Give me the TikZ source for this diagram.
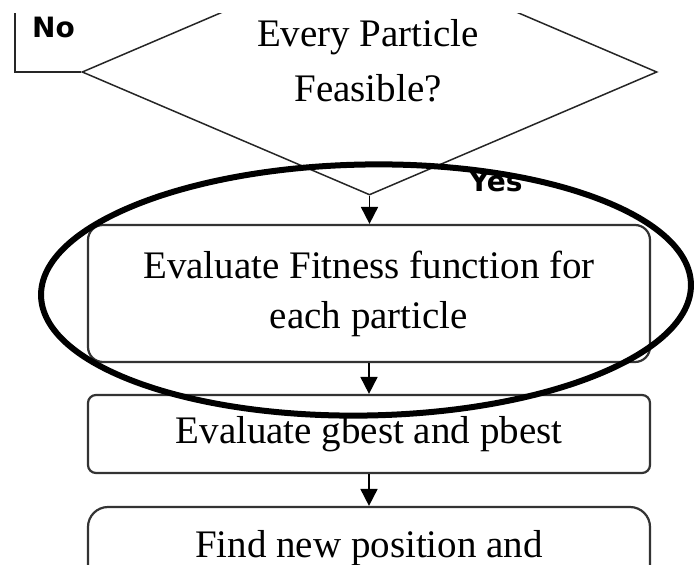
\documentclass[tikz,border=0pt]{standalone}
\usepackage{fontspec}
\setmainfont{Liberation Serif}
\newfontfamily\labfont{DejaVu Sans}
\usetikzlibrary{shapes.geometric,arrows.meta}
\begin{document}
\begin{tikzpicture}[x=1pt,y=-1pt,
  boxstyle/.style={draw=black!80, line width=2.2pt, minimum width=562pt, inner sep=0pt, align=center, font=\fontsize{39}{50}\selectfont},
  flow/.style={draw=black, line width=1.8pt, -{Triangle[width=17pt,length=17pt]}},
  yn/.style={font=\labfont\bfseries\fontsize{28}{30}\selectfont, inner sep=0pt, anchor=base west}]
\useasboundingbox (0,0) rectangle (694,565);
\clip (0,13) rectangle (694,565);
\node[diamond, draw=black!85, line width=1.5pt, minimum width=575pt, minimum height=246pt, shape aspect=2.34, inner sep=0pt] (d) at (369.5,72) {};
\node[align=center, inner sep=0pt, font=\fontsize{39}{55}\selectfont] (dtext) at (368,61) {Every Particle\\Feasible?};
\node[boxstyle, minimum height=137pt, rounded corners=15pt] (box1) at (369,293.5) {Evaluate Fitness function for\\each particle};
\node[boxstyle, minimum height=78pt, rounded corners=8pt] (box2) at (369,434) {Evaluate gbest and pbest};
\node[boxstyle, minimum height=82pt, rounded corners=20pt] (box3) at (369,548) {Find new position and};
\draw[flow] (d.south) -- (d.south |- box1.north);
\draw[flow] (box1.south) -- (box2.north);
\draw[flow] (box2.south) -- (box3.north);
\coordinate (noend) at (15,0);
\draw[line width=1.8pt, black!85] (d.west) -| (noend);
\node[yn] (no) at (32,37) {No};
\node[yn] (yes) at (469,191) {Yes};
\node[ellipse, draw=black, line width=6pt, minimum width=650pt, minimum height=251pt, inner sep=0pt, rotate=1] (hl) at (366,290) {};
\end{tikzpicture}
\end{document}
